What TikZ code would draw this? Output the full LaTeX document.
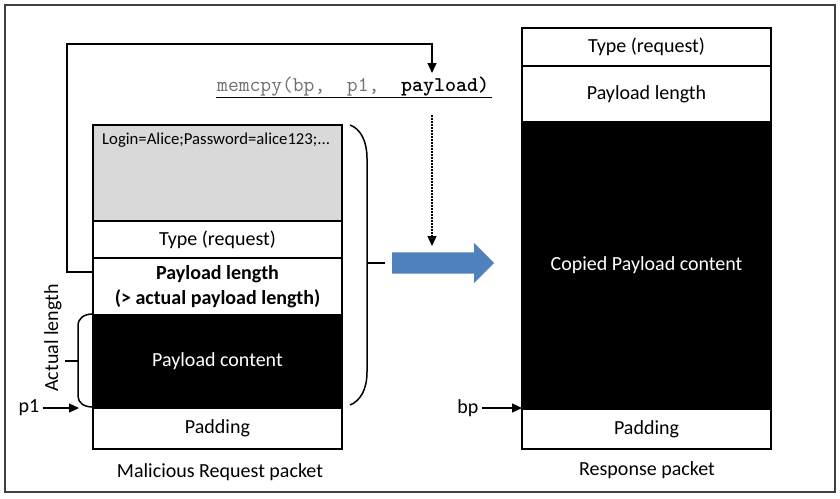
\documentclass[tikz,border=0pt]{standalone}
\usepackage{fontspec}
\setmainfont{Carlito}
\usetikzlibrary{arrows.meta,positioning,shapes.arrows,calc}
\definecolor{reqgray}{HTML}{D9D9D9}
\definecolor{arrowblue}{HTML}{4F81BD}
\definecolor{codegray}{HTML}{6F6F6F}
\definecolor{framegray}{HTML}{404040}
\newcommand{\cellfont}{\fontsize{20}{25}\selectfont}

\begin{document}
\begin{tikzpicture}[x=1pt,y=-1pt,
  cell/.style={draw,line width=2pt,minimum width=249pt,inner sep=0pt,
               outer sep=0pt,font=\cellfont,align=center},
  lbl/.style={font=\cellfont,inner sep=3pt},
  arr/.style={-{Triangle[length=10pt,width=9pt]},line width=1.3pt},
  brace/.style={line width=1.5pt}
]
\useasboundingbox (0,0) rectangle (840,498);
\draw[framegray,line width=1.5pt] (5,5) rectangle (835,492);

% Left column: malicious request packet (top to bottom)
\node[cell,fill=reqgray,minimum height=96pt] (login) at (217.5,173) {};
\node[cell,minimum height=37pt,below=0pt of login] (type) {Type (request)};
\node[cell,minimum height=57pt,below=0pt of type,font=\cellfont\bfseries]
      (plen) {Payload length\\(> actual payload length)};
\node[cell,fill=black,text=white,minimum height=93pt,below=0pt of plen] (pcont) {Payload content};
\node[cell,minimum height=41pt,below=0pt of pcont] (pad) {Padding};
\node[font=\fontsize{16.7}{20}\selectfont,anchor=base west,inner sep=0pt]
      (ltxt) at (102,144) {Login=Alice;Password=alice123;...};
\node[lbl] (reqlbl) at (220,472) {Malicious Request packet};

% Right column: response packet
\node[cell,minimum height=38pt] (rtype) at (646.5,47) {Type (request)};
\node[cell,minimum height=56pt,below=0pt of rtype] (rplen) {Payload length};
\node[cell,fill=black,text=white,minimum height=287pt,below=0pt of rplen] (rcont) {Copied Payload content};
\node[cell,minimum height=40pt,below=0pt of rcont] (rpad) {Padding};
\node[lbl] (resplbl) at (647,470) {Response packet};

% memcpy call, fed by the payload length field
\node[anchor=base west,inner sep=0pt,font=\fontsize{21}{24}\selectfont\ttfamily]
      (mc) at (217,91) {\textcolor{codegray}{memcpy(bp,~~p1,~~}\textbf{payload)}};
\draw[line width=1pt] ($(mc.base west)+(-1,6)$) -- ($(mc.base east)+(3,6)$);

\coordinate (loop) at (67,44);
\coordinate (cpy)  at (432,73);
\draw[arr] ($(plen.north west)+(0,14)$) -| (loop) -| (cpy);

\coordinate (dtop) at (432,115);
\coordinate (dend) at (432,246);
\draw[arr,dash pattern=on 1.5pt off 1.5pt] (dtop) -- (dend);

% Copy arrow
\node[single arrow,fill=arrowblue,minimum height=102pt,inner xsep=0pt,inner ysep=10.5pt,
      single arrow head extend=9.5pt,anchor=tail] (copy) at (392,263) {};

% Braces
\draw[brace] (350,125) .. controls (361,129) and (367,142) .. (367,158)
  -- (367,372) .. controls (367,390) and (360,401) .. (350,405);
\draw[brace] (367,263) -- (385,263);
\draw[brace] (93,314) .. controls (84,314) and (78,318) .. (78,326)
  -- (78,396) .. controls (78,403) and (84,407) .. (93,407);
\draw[brace] (78,361) -- (65,361);
\node[lbl,rotate=90] (actlen) at (53,338) {Actual length};

% Pointers
\node[lbl] (p1) at (29,408) {p1};
\coordinate (p1end) at (79,408);
\draw[arr] (p1.east) -- (p1end);
\node[lbl] (bp) at (468,408) {bp};
\draw[arr] (bp.east) -- (bp.east -| rcont.west);

\end{tikzpicture}
\end{document}
